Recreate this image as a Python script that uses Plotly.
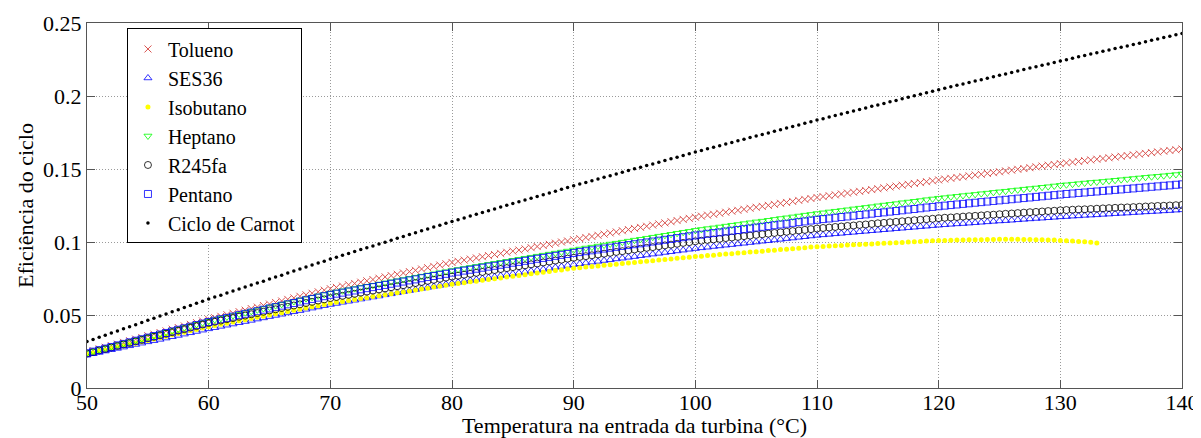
import plotly.graph_objects as go

# Turbine inlet temperature grid (°C), 0.5 °C step from 50 to 140
temperatura = [50 + 0.5 * i for i in range(181)]

tolueno = [
    0.0245, 0.0256, 0.0268, 0.0279, 0.0290, 0.0301, 0.0313, 0.0324, 0.0335, 0.0346,
    0.0358, 0.0369, 0.0380, 0.0391, 0.0403, 0.0414, 0.0425, 0.0436, 0.0448, 0.0459,
    0.0470, 0.0481, 0.0491, 0.0502, 0.0512, 0.0523, 0.0533, 0.0544, 0.0554, 0.0565,
    0.0575, 0.0586, 0.0596, 0.0607, 0.0617, 0.0628, 0.0638, 0.0649, 0.0659, 0.0670,
    0.0680, 0.0689, 0.0698, 0.0707, 0.0716, 0.0725, 0.0734, 0.0743, 0.0752, 0.0761,
    0.0770, 0.0779, 0.0788, 0.0797, 0.0806, 0.0815, 0.0824, 0.0833, 0.0842, 0.0851,
    0.0860, 0.0868, 0.0876, 0.0883, 0.0891, 0.0899, 0.0907, 0.0914, 0.0922, 0.0930,
    0.0938, 0.0945, 0.0953, 0.0961, 0.0969, 0.0976, 0.0984, 0.0992, 0.1000, 0.1007,
    0.1015, 0.1023, 0.1031, 0.1038, 0.1046, 0.1054, 0.1062, 0.1069, 0.1077, 0.1085,
    0.1093, 0.1100, 0.1108, 0.1116, 0.1124, 0.1131, 0.1139, 0.1147, 0.1155, 0.1162,
    0.1170, 0.1177, 0.1184, 0.1190, 0.1197, 0.1204, 0.1211, 0.1217, 0.1224, 0.1231,
    0.1238, 0.1244, 0.1251, 0.1258, 0.1265, 0.1271, 0.1278, 0.1285, 0.1292, 0.1298,
    0.1305, 0.1311, 0.1317, 0.1323, 0.1329, 0.1335, 0.1341, 0.1347, 0.1353, 0.1359,
    0.1365, 0.1371, 0.1377, 0.1383, 0.1389, 0.1395, 0.1401, 0.1407, 0.1413, 0.1419,
    0.1425, 0.1431, 0.1436, 0.1442, 0.1447, 0.1453, 0.1459, 0.1464, 0.1470, 0.1475,
    0.1481, 0.1487, 0.1492, 0.1498, 0.1503, 0.1509, 0.1515, 0.1520, 0.1526, 0.1531,
    0.1537, 0.1542, 0.1547, 0.1552, 0.1557, 0.1562, 0.1567, 0.1572, 0.1577, 0.1582,
    0.1587, 0.1592, 0.1597, 0.1602, 0.1607, 0.1612, 0.1617, 0.1622, 0.1627, 0.1632,
    0.1637,
]

ses36 = [
    0.0226, 0.0235, 0.0244, 0.0253, 0.0262, 0.0271, 0.0280, 0.0289, 0.0298, 0.0307,
    0.0316, 0.0324, 0.0333, 0.0342, 0.0351, 0.0360, 0.0369, 0.0378, 0.0387, 0.0396,
    0.0405, 0.0413, 0.0422, 0.0430, 0.0438, 0.0447, 0.0455, 0.0463, 0.0472, 0.0480,
    0.0489, 0.0497, 0.0505, 0.0514, 0.0522, 0.0530, 0.0539, 0.0547, 0.0555, 0.0564,
    0.0572, 0.0579, 0.0587, 0.0594, 0.0601, 0.0609, 0.0616, 0.0623, 0.0630, 0.0638,
    0.0645, 0.0652, 0.0660, 0.0667, 0.0674, 0.0682, 0.0689, 0.0696, 0.0703, 0.0711,
    0.0718, 0.0724, 0.0731, 0.0737, 0.0743, 0.0750, 0.0756, 0.0762, 0.0769, 0.0775,
    0.0782, 0.0788, 0.0794, 0.0801, 0.0807, 0.0813, 0.0820, 0.0826, 0.0832, 0.0839,
    0.0845, 0.0851, 0.0856, 0.0862, 0.0867, 0.0873, 0.0878, 0.0884, 0.0889, 0.0895,
    0.0900, 0.0906, 0.0911, 0.0917, 0.0922, 0.0928, 0.0933, 0.0939, 0.0944, 0.0950,
    0.0955, 0.0960, 0.0964, 0.0969, 0.0973, 0.0978, 0.0982, 0.0987, 0.0991, 0.0996,
    0.1000, 0.1005, 0.1009, 0.1014, 0.1018, 0.1023, 0.1027, 0.1032, 0.1036, 0.1041,
    0.1045, 0.1049, 0.1052, 0.1056, 0.1059, 0.1063, 0.1066, 0.1070, 0.1073, 0.1077,
    0.1080, 0.1084, 0.1087, 0.1091, 0.1094, 0.1098, 0.1101, 0.1105, 0.1108, 0.1112,
    0.1115, 0.1118, 0.1121, 0.1124, 0.1126, 0.1129, 0.1132, 0.1135, 0.1138, 0.1141,
    0.1144, 0.1146, 0.1149, 0.1152, 0.1155, 0.1158, 0.1161, 0.1163, 0.1166, 0.1169,
    0.1172, 0.1174, 0.1177, 0.1179, 0.1182, 0.1184, 0.1186, 0.1189, 0.1191, 0.1194,
    0.1196, 0.1198, 0.1201, 0.1203, 0.1206, 0.1208, 0.1210, 0.1213, 0.1215, 0.1218,
    0.1220,
]

isobutano = [
    0.0232, 0.0241, 0.0251, 0.0260, 0.0270, 0.0279, 0.0288, 0.0298, 0.0307, 0.0317,
    0.0326, 0.0335, 0.0345, 0.0354, 0.0364, 0.0373, 0.0382, 0.0392, 0.0401, 0.0411,
    0.0420, 0.0428, 0.0436, 0.0444, 0.0452, 0.0460, 0.0468, 0.0476, 0.0484, 0.0492,
    0.0500, 0.0508, 0.0516, 0.0524, 0.0532, 0.0540, 0.0548, 0.0556, 0.0564, 0.0572,
    0.0580, 0.0587, 0.0593, 0.0600, 0.0606, 0.0613, 0.0619, 0.0626, 0.0632, 0.0639,
    0.0645, 0.0652, 0.0658, 0.0665, 0.0671, 0.0678, 0.0684, 0.0691, 0.0697, 0.0704,
    0.0710, 0.0716, 0.0721, 0.0727, 0.0732, 0.0738, 0.0743, 0.0749, 0.0754, 0.0760,
    0.0765, 0.0771, 0.0776, 0.0782, 0.0787, 0.0793, 0.0798, 0.0804, 0.0809, 0.0815,
    0.0820, 0.0824, 0.0828, 0.0832, 0.0836, 0.0840, 0.0844, 0.0848, 0.0852, 0.0856,
    0.0860, 0.0864, 0.0868, 0.0872, 0.0876, 0.0880, 0.0884, 0.0888, 0.0892, 0.0896,
    0.0900, 0.0903, 0.0907, 0.0910, 0.0914, 0.0917, 0.0920, 0.0924, 0.0927, 0.0931,
    0.0934, 0.0937, 0.0941, 0.0944, 0.0948, 0.0951, 0.0954, 0.0958, 0.0961, 0.0965,
    0.0968, 0.0970, 0.0972, 0.0974, 0.0976, 0.0979, 0.0981, 0.0983, 0.0985, 0.0987,
    0.0989, 0.0991, 0.0993, 0.0995, 0.0997, 0.1000, 0.1002, 0.1004, 0.1006, 0.1008,
    0.1010, 0.1011, 0.1012, 0.1013, 0.1014, 0.1015, 0.1016, 0.1016, 0.1017, 0.1017,
    0.1018, 0.1018, 0.1018, 0.1018, 0.1017, 0.1017, 0.1016, 0.1015, 0.1014, 0.1013,
    0.1011, 0.1009, 0.1007, 0.1004, 0.1001, 0.0998, 0.0994,
]

heptano = [
    0.0240, 0.0251, 0.0262, 0.0273, 0.0284, 0.0295, 0.0305, 0.0316, 0.0327, 0.0338,
    0.0349, 0.0360, 0.0371, 0.0382, 0.0393, 0.0404, 0.0414, 0.0425, 0.0436, 0.0447,
    0.0458, 0.0468, 0.0477, 0.0487, 0.0496, 0.0506, 0.0516, 0.0525, 0.0535, 0.0544,
    0.0554, 0.0564, 0.0573, 0.0583, 0.0592, 0.0602, 0.0612, 0.0621, 0.0631, 0.0640,
    0.0650, 0.0658, 0.0666, 0.0673, 0.0681, 0.0689, 0.0697, 0.0704, 0.0712, 0.0720,
    0.0728, 0.0735, 0.0743, 0.0751, 0.0759, 0.0766, 0.0774, 0.0782, 0.0790, 0.0797,
    0.0805, 0.0812, 0.0819, 0.0826, 0.0833, 0.0840, 0.0847, 0.0854, 0.0861, 0.0868,
    0.0875, 0.0882, 0.0889, 0.0896, 0.0903, 0.0910, 0.0917, 0.0924, 0.0931, 0.0938,
    0.0945, 0.0952, 0.0959, 0.0965, 0.0972, 0.0979, 0.0986, 0.0992, 0.0999, 0.1006,
    0.1013, 0.1019, 0.1026, 0.1033, 0.1040, 0.1046, 0.1053, 0.1060, 0.1067, 0.1073,
    0.1080, 0.1086, 0.1092, 0.1097, 0.1103, 0.1109, 0.1115, 0.1120, 0.1126, 0.1132,
    0.1138, 0.1143, 0.1149, 0.1155, 0.1161, 0.1166, 0.1172, 0.1178, 0.1184, 0.1189,
    0.1195, 0.1200, 0.1206, 0.1211, 0.1216, 0.1221, 0.1227, 0.1232, 0.1237, 0.1242,
    0.1248, 0.1253, 0.1258, 0.1263, 0.1269, 0.1274, 0.1279, 0.1284, 0.1290, 0.1295,
    0.1300, 0.1304, 0.1309, 0.1313, 0.1318, 0.1322, 0.1326, 0.1331, 0.1335, 0.1340,
    0.1344, 0.1348, 0.1353, 0.1357, 0.1362, 0.1366, 0.1370, 0.1375, 0.1379, 0.1384,
    0.1388, 0.1392, 0.1396, 0.1400, 0.1404, 0.1408, 0.1411, 0.1415, 0.1419, 0.1423,
    0.1427, 0.1431, 0.1435, 0.1439, 0.1443, 0.1447, 0.1450, 0.1454, 0.1458, 0.1462,
    0.1466,
]

r245fa = [
    0.0236, 0.0246, 0.0257, 0.0267, 0.0278, 0.0288, 0.0299, 0.0309, 0.0320, 0.0330,
    0.0341, 0.0351, 0.0361, 0.0372, 0.0382, 0.0393, 0.0403, 0.0414, 0.0424, 0.0435,
    0.0445, 0.0454, 0.0462, 0.0471, 0.0479, 0.0488, 0.0496, 0.0505, 0.0513, 0.0522,
    0.0531, 0.0539, 0.0548, 0.0556, 0.0565, 0.0573, 0.0582, 0.0590, 0.0599, 0.0607,
    0.0616, 0.0623, 0.0631, 0.0638, 0.0645, 0.0653, 0.0660, 0.0667, 0.0675, 0.0682,
    0.0690, 0.0697, 0.0704, 0.0712, 0.0719, 0.0726, 0.0734, 0.0741, 0.0748, 0.0756,
    0.0763, 0.0769, 0.0776, 0.0782, 0.0789, 0.0795, 0.0802, 0.0808, 0.0815, 0.0821,
    0.0828, 0.0834, 0.0840, 0.0847, 0.0853, 0.0860, 0.0866, 0.0873, 0.0879, 0.0886,
    0.0892, 0.0898, 0.0903, 0.0909, 0.0915, 0.0920, 0.0926, 0.0932, 0.0937, 0.0943,
    0.0949, 0.0954, 0.0960, 0.0965, 0.0971, 0.0977, 0.0982, 0.0988, 0.0994, 0.0999,
    0.1005, 0.1009, 0.1014, 0.1018, 0.1022, 0.1027, 0.1031, 0.1035, 0.1040, 0.1044,
    0.1049, 0.1053, 0.1057, 0.1062, 0.1066, 0.1070, 0.1075, 0.1079, 0.1083, 0.1088,
    0.1092, 0.1096, 0.1099, 0.1103, 0.1106, 0.1110, 0.1113, 0.1117, 0.1120, 0.1124,
    0.1128, 0.1131, 0.1135, 0.1138, 0.1142, 0.1145, 0.1149, 0.1152, 0.1156, 0.1159,
    0.1163, 0.1166, 0.1168, 0.1171, 0.1174, 0.1177, 0.1179, 0.1182, 0.1185, 0.1187,
    0.1190, 0.1193, 0.1195, 0.1198, 0.1201, 0.1204, 0.1206, 0.1209, 0.1212, 0.1214,
    0.1217, 0.1219, 0.1221, 0.1223, 0.1224, 0.1226, 0.1228, 0.1230, 0.1232, 0.1234,
    0.1236, 0.1237, 0.1239, 0.1241, 0.1243, 0.1245, 0.1247, 0.1248, 0.1250, 0.1252,
    0.1254,
]

pentano = [
    0.0238, 0.0249, 0.0259, 0.0270, 0.0281, 0.0292, 0.0302, 0.0313, 0.0324, 0.0334,
    0.0345, 0.0356, 0.0366, 0.0377, 0.0388, 0.0399, 0.0409, 0.0420, 0.0431, 0.0441,
    0.0452, 0.0461, 0.0471, 0.0480, 0.0489, 0.0499, 0.0508, 0.0517, 0.0526, 0.0536,
    0.0545, 0.0554, 0.0564, 0.0573, 0.0582, 0.0592, 0.0601, 0.0610, 0.0619, 0.0629,
    0.0638, 0.0646, 0.0653, 0.0661, 0.0668, 0.0676, 0.0684, 0.0691, 0.0699, 0.0706,
    0.0714, 0.0722, 0.0729, 0.0737, 0.0744, 0.0752, 0.0760, 0.0767, 0.0775, 0.0782,
    0.0790, 0.0797, 0.0804, 0.0810, 0.0817, 0.0824, 0.0831, 0.0837, 0.0844, 0.0851,
    0.0858, 0.0864, 0.0871, 0.0878, 0.0885, 0.0891, 0.0898, 0.0905, 0.0912, 0.0918,
    0.0925, 0.0931, 0.0937, 0.0943, 0.0949, 0.0955, 0.0961, 0.0967, 0.0973, 0.0979,
    0.0985, 0.0991, 0.0997, 0.1003, 0.1009, 0.1015, 0.1021, 0.1027, 0.1033, 0.1039,
    0.1045, 0.1050, 0.1056, 0.1061, 0.1066, 0.1072, 0.1077, 0.1082, 0.1088, 0.1093,
    0.1099, 0.1104, 0.1109, 0.1115, 0.1120, 0.1125, 0.1131, 0.1136, 0.1141, 0.1147,
    0.1152, 0.1157, 0.1161, 0.1166, 0.1171, 0.1175, 0.1180, 0.1185, 0.1189, 0.1194,
    0.1199, 0.1203, 0.1208, 0.1212, 0.1217, 0.1222, 0.1226, 0.1231, 0.1236, 0.1240,
    0.1245, 0.1249, 0.1253, 0.1257, 0.1261, 0.1265, 0.1269, 0.1273, 0.1277, 0.1281,
    0.1285, 0.1289, 0.1293, 0.1297, 0.1301, 0.1305, 0.1309, 0.1313, 0.1317, 0.1321,
    0.1325, 0.1329, 0.1332, 0.1336, 0.1339, 0.1343, 0.1346, 0.1350, 0.1353, 0.1357,
    0.1360, 0.1364, 0.1367, 0.1371, 0.1374, 0.1378, 0.1381, 0.1385, 0.1388, 0.1392,
    0.1395,
]

carnot = [
    0.0318, 0.0333, 0.0347, 0.0362, 0.0376, 0.0391, 0.0405, 0.0420, 0.0434, 0.0449,
    0.0464, 0.0478, 0.0493, 0.0507, 0.0522, 0.0536, 0.0551, 0.0565, 0.0580, 0.0594,
    0.0609, 0.0623, 0.0636, 0.0650, 0.0664, 0.0678, 0.0691, 0.0705, 0.0719, 0.0732,
    0.0746, 0.0760, 0.0773, 0.0787, 0.0801, 0.0815, 0.0828, 0.0842, 0.0856, 0.0869,
    0.0883, 0.0896, 0.0909, 0.0922, 0.0935, 0.0948, 0.0960, 0.0973, 0.0986, 0.0999,
    0.1012, 0.1025, 0.1038, 0.1051, 0.1064, 0.1077, 0.1089, 0.1102, 0.1115, 0.1128,
    0.1141, 0.1153, 0.1165, 0.1178, 0.1190, 0.1202, 0.1214, 0.1226, 0.1239, 0.1251,
    0.1263, 0.1275, 0.1287, 0.1300, 0.1312, 0.1324, 0.1336, 0.1348, 0.1361, 0.1373,
    0.1385, 0.1397, 0.1408, 0.1420, 0.1431, 0.1443, 0.1454, 0.1466, 0.1477, 0.1489,
    0.1501, 0.1512, 0.1524, 0.1535, 0.1547, 0.1558, 0.1570, 0.1581, 0.1593, 0.1604,
    0.1616, 0.1627, 0.1638, 0.1649, 0.1660, 0.1671, 0.1682, 0.1693, 0.1704, 0.1715,
    0.1726, 0.1736, 0.1747, 0.1758, 0.1769, 0.1780, 0.1791, 0.1802, 0.1813, 0.1824,
    0.1835, 0.1845, 0.1856, 0.1866, 0.1877, 0.1887, 0.1897, 0.1908, 0.1918, 0.1929,
    0.1939, 0.1949, 0.1960, 0.1970, 0.1981, 0.1991, 0.2001, 0.2012, 0.2022, 0.2033,
    0.2043, 0.2053, 0.2063, 0.2073, 0.2082, 0.2092, 0.2102, 0.2112, 0.2122, 0.2132,
    0.2142, 0.2151, 0.2161, 0.2171, 0.2181, 0.2191, 0.2201, 0.2210, 0.2220, 0.2230,
    0.2240, 0.2249, 0.2259, 0.2268, 0.2278, 0.2287, 0.2296, 0.2306, 0.2315, 0.2325,
    0.2334, 0.2343, 0.2353, 0.2362, 0.2372, 0.2381, 0.2390, 0.2400, 0.2409, 0.2419,
    0.2428,
]

x_ticks = [50, 60, 70, 80, 90, 100, 110, 120, 130, 140]
y_ticks = [0, 0.05, 0.1, 0.15, 0.2, 0.25]
y_tick_text = ["0", "0.05", "0.1", "0.15", "0.2", "0.25"]

FONT = "Liberation Serif, Times New Roman, serif"
FS = 22

series = [
    ("Tolueno", tolueno, dict(symbol="x-thin-open", size=7, color="#d9534f",
                               line=dict(color="#d9534f", width=1))),
    ("SES36", ses36, dict(symbol="triangle-up-open", size=7, color="#0000ff",
                           line=dict(color="#0000ff", width=0.8))),
    ("Isobutano", isobutano, dict(symbol="circle", size=5, color="#ffff00",
                                   line=dict(width=0))),
    ("Heptano", heptano, dict(symbol="triangle-down-open", size=7, color="#00ff00",
                               line=dict(color="#00ff00", width=0.8))),
    ("R245fa", r245fa, dict(symbol="circle-open", size=7, color="#000000",
                             line=dict(color="#000000", width=0.8))),
    ("Pentano", pentano, dict(symbol="square-open", size=7, color="#0000ff",
                               line=dict(color="#0000ff", width=0.8))),
    ("Ciclo de Carnot", carnot, dict(symbol="circle", size=3.5, color="#000000",
                                      line=dict(width=0))),
]

fig = go.Figure()
for name, vals, marker in series:
    fig.add_trace(go.Scatter(
        x=temperatura[:len(vals)], y=vals, mode="markers", name=name,
        marker=marker, cliponaxis=True,
    ))

axis_common = dict(
    showline=True, linecolor="#555555", linewidth=1, mirror="ticks",
    ticks="inside", ticklen=8, tickcolor="#555555", tickwidth=1,
    showgrid=True, gridcolor="#9a9a9a", griddash="1px,2px", gridwidth=1,
    zeroline=False, automargin=False,
    tickfont=dict(family=FONT, size=FS, color="#000000"),
)

fig.update_xaxes(
    range=[50, 140], tickvals=x_ticks, ticktext=[str(v) for v in x_ticks],
    ticklabelstandoff=-5,
    title=dict(text="Temperatura na entrada da turbina (°C)",
               font=dict(family=FONT, size=FS, color="#000000"), standoff=4),
    **axis_common,
)
fig.update_yaxes(
    range=[0, 0.25], tickvals=y_ticks, ticktext=y_tick_text,
    title=dict(text="Eficiência do ciclo",
               font=dict(family=FONT, size=FS, color="#000000"), standoff=3),
    **axis_common,
)

# The page body has an 8 px margin, so the figure is sized to fit inside it.
fig.update_layout(
    width=1193, height=430,
    margin=dict(l=79, r=19, t=15, b=50),
    paper_bgcolor="#ffffff", plot_bgcolor="#ffffff",
    font=dict(family=FONT, size=FS, color="#000000"),
    showlegend=True,
    legend=dict(
        x=0.0365, y=0.985, xanchor="left", yanchor="top",
        bgcolor="#ffffff", bordercolor="#000000", borderwidth=1,
        font=dict(family=FONT, size=20, color="#000000"),
        itemsizing="trace",
    ),
)

fig.write_html("out.html")
